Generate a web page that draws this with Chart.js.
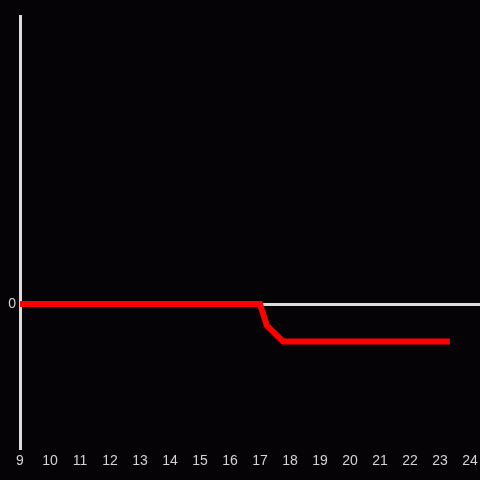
<!DOCTYPE html>
<html>
<head>
<meta charset="utf-8">
<script src="https://cdn.jsdelivr.net/npm/chart.js@4"></script>
<style>
html,body{margin:0;padding:0;background:#050305;}
#wrap{width:480px;height:480px;}
</style>
</head>
<body>
<div id="wrap"><canvas id="c" width="480" height="480"></canvas></div>
<script>
const xValues = [9, 10, 11, 12, 13, 14, 15, 16, 17, 17.23, 17.77, 23.33];
const yValues = [0, 0, 0, 0, 0, 0, 0, 0, 0, -0.15, -0.26, -0.26];
const xTickLabels = [9, 10, 11, 12, 13, 14, 15, 16, 17, 18, 19, 20, 21, 22, 23, 24];
const yTickLabels = [0];

const bg = {
  id: 'bg',
  beforeDraw(chart) {
    const ctx = chart.ctx;
    ctx.save();
    ctx.fillStyle = '#050305';
    ctx.fillRect(0, 0, chart.width, chart.height);
    ctx.restore();
  }
};

new Chart(document.getElementById('c'), {
  type: 'line',
  data: {
    datasets: [{
      data: xValues.map((x, i) => ({x: x, y: yValues[i]})),
      borderColor: '#ff0000',
      borderWidth: 6,
      pointRadius: 0,
      tension: 0,
      borderCapStyle: 'butt',
      borderJoinStyle: 'miter',
      fill: false
    }]
  },
  options: {
    responsive: false,
    animation: false,
    devicePixelRatio: 1,
    layout: {padding: {top: 16, right: 0, left: 0, bottom: 0}},
    plugins: {legend: {display: false}, tooltip: {enabled: false}},
    scales: {
      x: {
        type: 'linear',
        min: 9,
        max: 24.333,
        afterBuildTicks(scale) { scale.ticks = xTickLabels.map(v => ({value: v})); },
        afterFit(scale) { scale.height = 32; scale.paddingLeft = 0; scale.paddingRight = 0; },
        grid: {display: false, drawTicks: false, tickLength: 0},
        border: {display: false},
        ticks: {color: '#d4d4d4', font: {family: 'Liberation Sans', size: 14}, padding: 5, maxRotation: 0, autoSkip: false}
      },
      y: {
        type: 'linear',
        min: -1,
        max: 2,
        afterBuildTicks(scale) { scale.ticks = yTickLabels.map(v => ({value: v})); },
        afterFit(scale) { scale.width = 20; },
        grid: {color: '#dddddd', lineWidth: 3, drawTicks: false},
        border: {display: true, color: '#dddddd', width: 3},
        ticks: {color: '#d4d4d4', font: {family: 'Liberation Sans', size: 14}, padding: 4}
      }
    }
  },
  plugins: [bg]
});
</script>
</body>
</html>
